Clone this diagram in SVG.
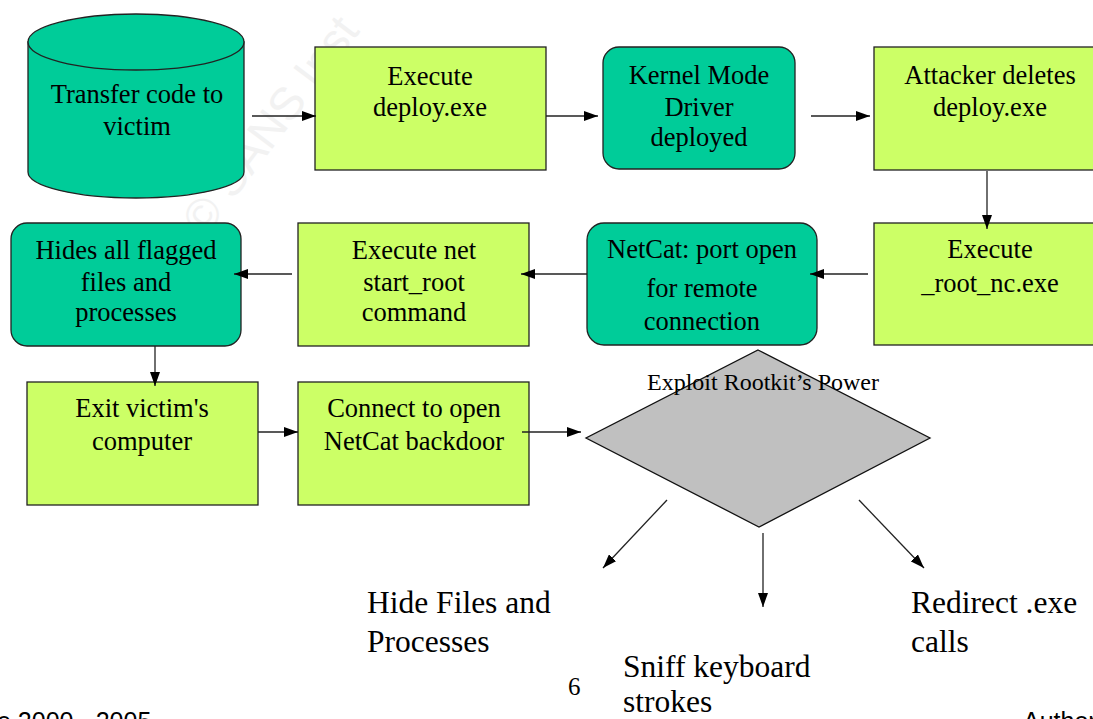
<svg xmlns="http://www.w3.org/2000/svg" width="1093" height="719" viewBox="0 0 1093 719">
<style>
.t{font-family:"Liberation Serif","Times New Roman",serif;font-size:26.5px;fill:#000;text-anchor:middle}
.b{font-family:"Liberation Serif","Times New Roman",serif;font-size:31.5px;fill:#000}
.f{font-family:"Liberation Sans",Arial,sans-serif;font-size:25px;fill:#000}
.lime{fill:#CCFF66;stroke:#222;stroke-width:1.3}
.teal{fill:#00CC99;stroke:#222;stroke-width:1.3}
.c line{stroke:#222;stroke-width:1.3;marker-end:url(#ah)}
</style>
<defs>
<marker id="ah" markerUnits="userSpaceOnUse" markerWidth="14" markerHeight="10" refX="14" refY="5" orient="auto">
<path d="M0,0 L14,5 L0,10 Z" fill="#000"/>
</marker>
</defs>
<rect width="1093" height="719" fill="#fff"/>
<text x="0" y="0" transform="translate(205,238) rotate(-53)" font-family="Liberation Sans,Arial,sans-serif" font-size="46" fill="#f2f2f2">© SANS Inst</text>

<g id="transfer">
<path class="teal" d="M28,42 V172 A108,26 0 0 0 244,172 V42 Z"/>
<ellipse class="teal" cx="136" cy="42" rx="108" ry="28"/>
<text class="t" x="137" y="103">Transfer code to</text>
<text class="t" x="137" y="135">victim</text>
</g>
<g id="execdeploy">
<rect class="lime" x="315" y="47" width="231" height="123"/>
<text class="t" x="430" y="85">Execute</text>
<text class="t" x="430" y="116">deploy.exe</text>
</g>
<g id="kernel">
<rect class="teal" x="603" y="47" width="192" height="122" rx="16"/>
<text class="t" x="699" y="84">Kernel Mode</text>
<text class="t" x="699" y="116">Driver</text>
<text class="t" x="699" y="146">deployed</text>
</g>
<g id="attacker">
<rect class="lime" x="874" y="47" width="232" height="123"/>
<text class="t" x="990" y="84">Attacker deletes</text>
<text class="t" x="990" y="116">deploy.exe</text>
</g>
<g id="rootnc">
<rect class="lime" x="874" y="223" width="232" height="122"/>
<text class="t" x="990" y="258">Execute</text>
<text class="t" x="990" y="292">_root_nc.exe</text>
</g>
<g id="netcat">
<rect class="teal" x="587" y="223" width="230" height="122" rx="17"/>
<text class="t" x="702" y="258">NetCat: port open</text>
<text class="t" x="702" y="297">for remote</text>
<text class="t" x="702" y="330">connection</text>
</g>
<g id="execnet">
<rect class="lime" x="298" y="223" width="231" height="123"/>
<text class="t" x="414" y="259">Execute net</text>
<text class="t" x="414" y="291">start_root</text>
<text class="t" x="414" y="321">command</text>
</g>
<g id="hides">
<rect class="teal" x="11" y="223" width="230" height="123" rx="16"/>
<text class="t" x="126" y="259">Hides all flagged</text>
<text class="t" x="126" y="291">files and</text>
<text class="t" x="126" y="321">processes</text>
</g>
<g id="exit">
<rect class="lime" x="27" y="382" width="231" height="123"/>
<text class="t" x="142" y="417">Exit victim's</text>
<text class="t" x="142" y="450">computer</text>
</g>
<g id="connect">
<rect class="lime" x="298" y="382" width="231" height="123"/>
<text class="t" x="414" y="417">Connect to open</text>
<text class="t" x="414" y="450">NetCat backdoor</text>
</g>
<g id="exploit">
<polygon points="758,350 930,438 759,527 586,438" fill="#C0C0C0" stroke="#111" stroke-width="1.3"/>
<text x="763" y="390" font-family="Liberation Serif,Times New Roman,serif" font-size="24" text-anchor="middle">Exploit Rootkit’s Power</text>
</g>
<g id="hidefiles">
<text class="b" x="367" y="613">Hide Files and</text>
<text class="b" x="367" y="652">Processes</text>
</g>
<g id="sniff">
<text class="b" x="623" y="677">Sniff keyboard</text>
<text class="b" x="623" y="712">strokes</text>
</g>
<g id="redirect">
<text class="b" x="911" y="613">Redirect .exe</text>
<text class="b" x="911" y="652">calls</text>
</g>
<g id="footer">
<text x="568" y="695" font-family="Liberation Serif,Times New Roman,serif" font-size="25">6</text>
<text class="f" x="-3" y="730">e 2000 - 2005</text>
<text class="f" x="1023" y="730">Author</text>
</g>

<g id="connectors" class="c">
<line x1="252" y1="116" x2="316" y2="116"/>
<line x1="546" y1="116" x2="598" y2="116"/>
<line x1="811" y1="116" x2="870" y2="116"/>
<line x1="987" y1="171" x2="987" y2="229"/>
<line x1="868" y1="274" x2="810" y2="274"/>
<line x1="587" y1="274" x2="521" y2="274"/>
<line x1="292" y1="274" x2="234" y2="274"/>
<line x1="155" y1="346" x2="155" y2="386"/>
<line x1="258" y1="432" x2="298" y2="432"/>
<line x1="522" y1="432" x2="581" y2="432"/>
<line x1="667" y1="500" x2="603" y2="568"/>
<line x1="763" y1="533" x2="763" y2="607"/>
<line x1="859" y1="500" x2="924" y2="568"/>
</g>
</svg>
